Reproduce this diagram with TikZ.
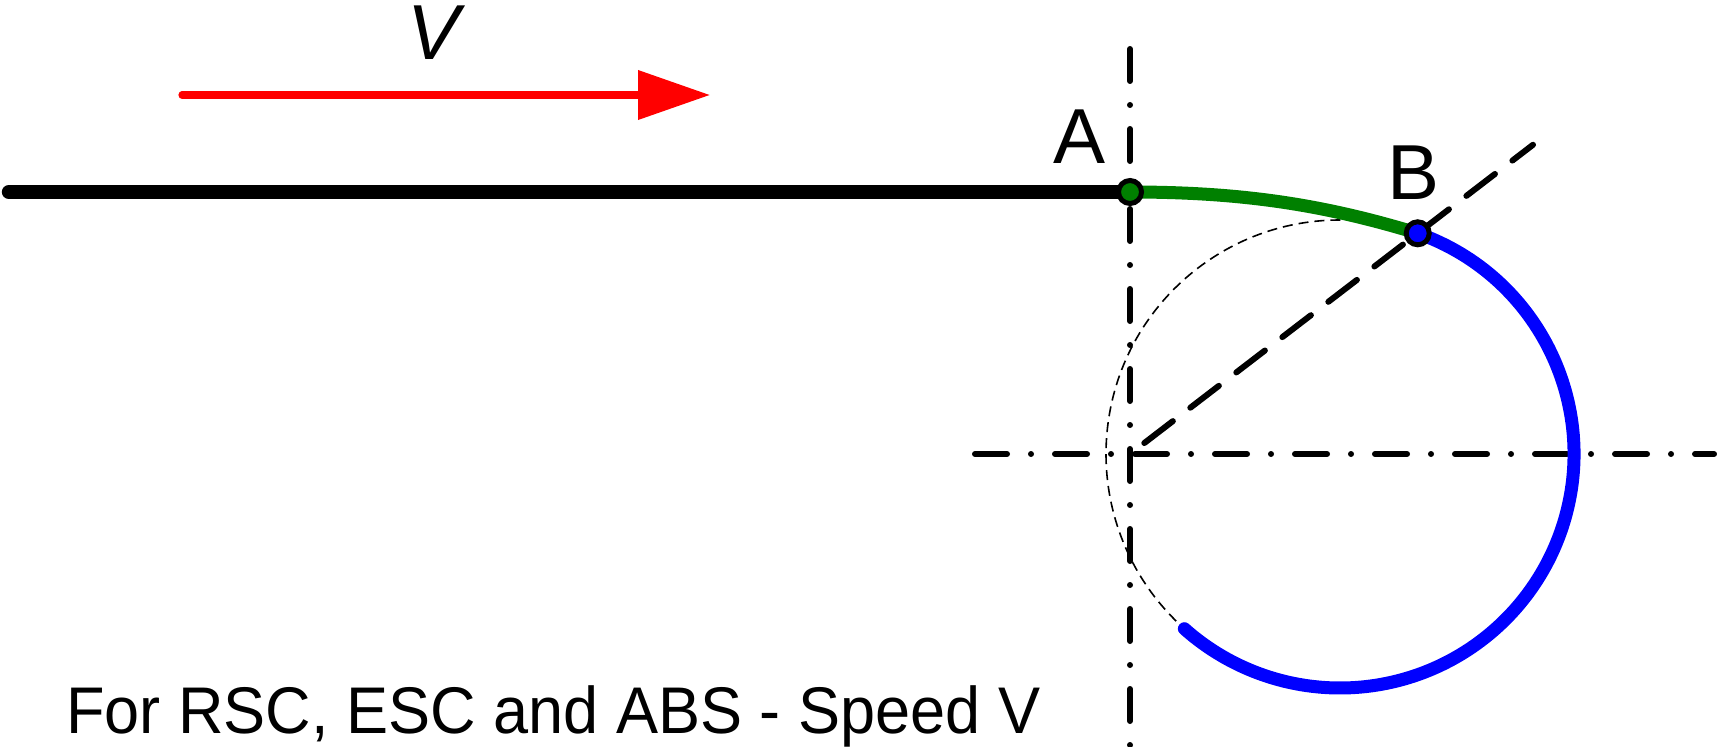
\documentclass[tikz,border=0pt]{standalone}
\usepackage{fontspec}
\setmainfont{Liberation Sans}
\usetikzlibrary{arrows.meta}

\begin{document}
\begin{tikzpicture}[
  x=0.5pt, y=0.5pt,
  >={Triangle[length=36pt,width=24pt]},
  axis/.style={line width=3pt, line cap=round,
               dash pattern=on 16pt off 12pt on 0pt off 12pt},
  ray/.style={line width=3pt, line cap=round, dash pattern=on 18pt off 11pt},
  guide/.style={line width=0.8pt, dash pattern=on 5pt off 3pt},
  dotnode/.style={draw, circle, line width=2.5pt, minimum size=11.5pt, inner sep=0pt},
  lbl/.style={font=\fontsize{39}{40}\selectfont, anchor=base, inner sep=0pt},
]
\useasboundingbox (0,0) rectangle (1717,746);
\coordinate (o) at (1130,292);
\coordinate (c) at (1340,292);
\coordinate (pA) at (1130,554);
\coordinate (start) at (9,554);
\path (c) ++(70.6:234) coordinate (pB);

% axes and guides
\draw[axis] (1130,697) -- (1130,0);
\draw[axis] (975,292) -- (1714,292);
\draw[ray] (o) ++(37.5:18) -- ++(37.5:490);
\draw[guide] (c) ++(86:234) arc[start angle=86, end angle=228.3, radius=234];

% path
\draw[line width=7.2pt, line cap=round] (start) -- (pA);
\draw[green!50!black, line width=6.5pt] (pA) .. controls +(110,0) and +(-95.6,29.2) .. (pB);
\draw[blue, line width=6.5pt, line cap=round] (pB) arc[start angle=70.6, end angle=-131.7, radius=234];
\draw[red, line width=3.6pt, line cap=round, ->] (182,651) -- (710,651);

\node[dotnode, fill=green!50!black] (A) at (pA) {};
\node[dotnode, fill=blue] (B) at (pB) {};
\node[lbl] (lblA) at (1079,582) {A};
\node[lbl] (lblB) at (1413,547) {B};
\node[lbl, font=\fontsize{39}{40}\selectfont\itshape] (lblV) at (434,686) {V};
\node[font=\fontsize{33}{36}\selectfont, anchor=base west, inner sep=0pt] (caption) at (66,13)
  {\scalebox{0.955}[1]{For RSC, ESC and ABS - Speed V}};
\end{tikzpicture}
\end{document}
